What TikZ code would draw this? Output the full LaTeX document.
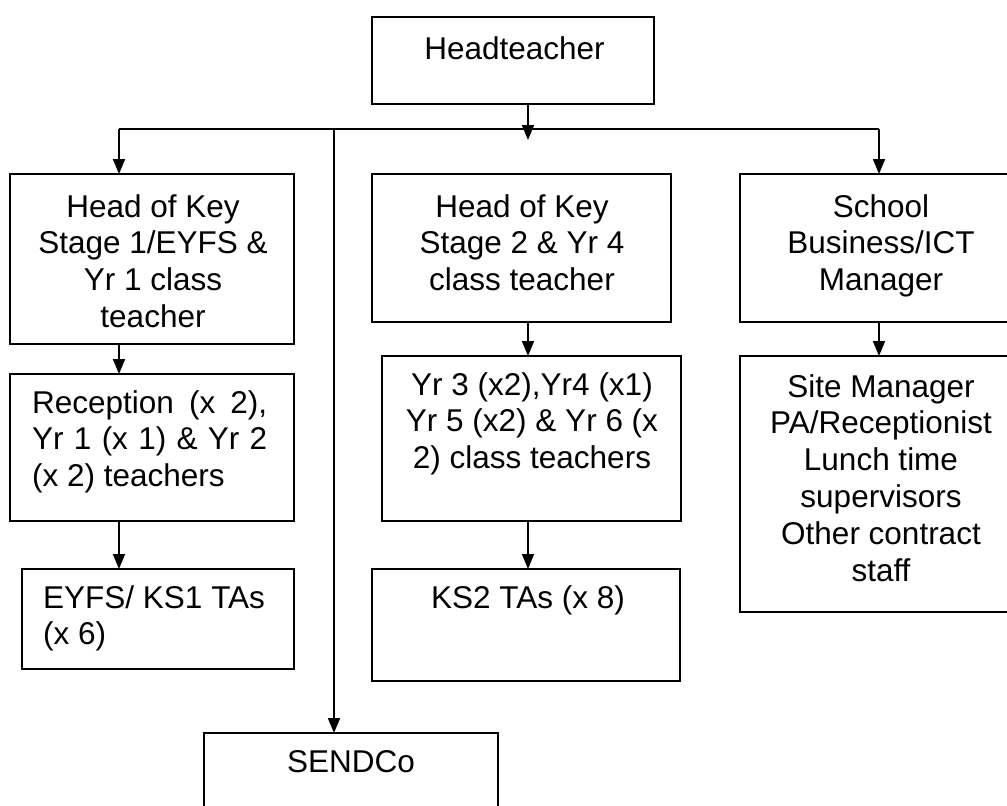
\documentclass[tikz,border=0pt]{standalone}
\usepackage{fontspec}
\setmainfont{Liberation Sans}
\usetikzlibrary{arrows.meta}
\begin{document}
\begin{tikzpicture}[x=1pt,y=-1pt,
  box/.style={draw, line width=1.6pt, rectangle, inner sep=0pt, outer sep=0pt, anchor=north west},
  txt/.style={font=\fontsize{31.5}{36.8}\selectfont, inner sep=0pt, align=center, anchor=north},
  ltxt/.style={font=\fontsize{31.5}{36.8}\selectfont, inner sep=0pt, align=left, anchor=north west},
  conn/.style={line width=1.8pt},
  arr/.style={conn, -{Triangle[length=15pt,width=12pt]}}]
\useasboundingbox (0,0) rectangle (1007,806);
\clip (0,0) rectangle (1007,806);
% boxes
\node[box, minimum width=282pt, minimum height=87pt]  (ht) at (372,17)  {};
\node[box, minimum width=284pt, minimum height=170pt] (b1) at (10,174)  {};
\node[box, minimum width=284pt, minimum height=147pt] (b2) at (10,374)  {};
\node[box, minimum width=272pt, minimum height=100pt] (b3) at (22,569)  {};
\node[box, minimum width=299pt, minimum height=148pt] (m1) at (372,174) {};
\node[box, minimum width=299pt, minimum height=165pt] (m2) at (382,356) {};
\node[box, minimum width=308pt, minimum height=112pt] (m3) at (372,569) {};
\node[box, minimum width=282pt, minimum height=148pt] (r1) at (740,174) {};
\node[box, minimum width=282pt, minimum height=256pt] (r2) at (740,356) {};
\node[box, minimum width=294pt, minimum height=100pt] (sc) at (204,733) {};
% texts
\node[txt]  (htt) at (514.5,36.5) {Headteacher};
\node[txt]  (b1t) at (153,194) {Head of Key\\Stage 1/EYFS \&\\Yr 1 class\\teacher};
\node[txt]  (m1t) at (522,194) {Head of Key\\Stage 2 \& Yr 4\\class teacher};
\node[txt]  (r1t) at (881,194) {School\\Business/ICT\\Manager};
\node[ltxt] (b2t) at (32,390) {\makebox[235pt][s]{Reception (x 2),}\\\makebox[235pt][s]{Yr 1 (x 1) \& Yr 2}\\(x 2) teachers};
\node[txt]  (m2t) at (532,372) {Yr 3 (x2),Yr4 (x1)\\Yr 5 (x2) \& Yr 6 (x\\2) class teachers};
\node[txt]  (r2t) at (881,374) {Site Manager\\PA/Receptionist\\Lunch time\\supervisors\\Other contract\\staff};
\node[ltxt] (b3t) at (43,585) {EYFS/ KS1 TAs\\(x 6)};
\node[txt]  (m3t) at (528,585) {KS2 TAs (x 8)};
\node[txt]  (sct) at (351,750) {SENDCo};
% connectors
\coordinate (hub) at (528,129);
\coordinate (hubtip) at (528,140);
\coordinate (busL) at (119,129);
\coordinate (busR) at (879,129);
\coordinate (sj) at (334,129);
\draw[conn] (busL) -- (busR);
\draw[arr] (ht.south -| hub) -- (hubtip);
\draw[arr] (busL) -- (busL |- b1.north);
\draw[arr] (busR) -- (busR |- r1.north);
\draw[arr] (sj) -- (sj |- sc.north);
\draw[arr] (b1.south -| busL) -- (b2.north -| busL);
\draw[arr] (b2.south -| busL) -- (b3.north -| busL);
\draw[arr] (m1.south -| hub) -- (m2.north -| hub);
\draw[arr] (m2.south -| hub) -- (m3.north -| hub);
\draw[arr] (r1.south -| busR) -- (r2.north -| busR);
\end{tikzpicture}
\end{document}
